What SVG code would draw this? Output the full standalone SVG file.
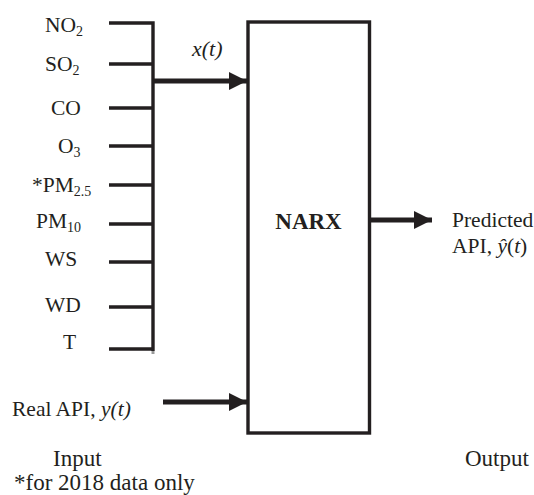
<svg xmlns="http://www.w3.org/2000/svg" width="534" height="495" viewBox="0 0 534 495">
  <defs>
    <marker id="head" viewBox="0 0 18 18" refX="18" refY="9" markerWidth="18" markerHeight="18" markerUnits="userSpaceOnUse" orient="auto">
      <path d="M0,0 L18,9 L0,18 Z" fill="#231f20"/>
    </marker>
  </defs>

  <rect width="534" height="495" fill="#ffffff"/>

  <!-- NARX block -->
  <g id="narx">
    <rect x="248" y="22" width="121.5" height="411" fill="#ffffff" stroke="#231f20" stroke-width="3.4"/>
    <text font-family="Liberation Serif" fill="#231f20" x="308.5" y="229" text-anchor="middle" font-weight="bold" font-size="23">NARX</text>
  </g>

  <!-- input variable labels -->
  <g id="in-no2"><text font-family="Liberation Serif" fill="#231f20" font-size="21.5" x="45" y="32">NO<tspan font-size="14" dy="4">2</tspan></text></g>
  <g id="in-so2"><text font-family="Liberation Serif" fill="#231f20" font-size="21.5" x="45" y="71">SO<tspan font-size="14" dy="4">2</tspan></text></g>
  <g id="in-co"><text font-family="Liberation Serif" fill="#231f20" font-size="21.5" x="51" y="115">CO</text></g>
  <g id="in-o3"><text font-family="Liberation Serif" fill="#231f20" font-size="21.5" x="58" y="153">O<tspan font-size="14" dy="4">3</tspan></text></g>
  <g id="in-pm25"><text font-family="Liberation Serif" fill="#231f20" font-size="21.5" x="32" y="192">*PM<tspan font-size="14" dy="4">2.5</tspan></text></g>
  <g id="in-pm10"><text font-family="Liberation Serif" fill="#231f20" font-size="21.5" x="36" y="228">PM<tspan font-size="14" dy="4">10</tspan></text></g>
  <g id="in-ws"><text font-family="Liberation Serif" fill="#231f20" font-size="21.5" x="45" y="266">WS</text></g>
  <g id="in-wd"><text font-family="Liberation Serif" fill="#231f20" font-size="21.5" x="45" y="312">WD</text></g>
  <g id="in-t"><text font-family="Liberation Serif" fill="#231f20" font-size="21.5" x="63" y="349">T</text></g>

  <g id="x-label"><text font-family="Liberation Serif" fill="#231f20" x="192" y="56" font-size="22" font-style="italic">x(t)</text></g>

  <g id="real-api"><text font-family="Liberation Serif" fill="#231f20" font-size="21.5" x="12" y="416">Real API, <tspan font-style="italic">y(t)</tspan></text></g>

  <g id="predicted">
    <text font-family="Liberation Serif" fill="#231f20" font-size="21.5" x="452" y="227">Predicted</text>
    <text font-family="Liberation Serif" fill="#231f20" font-size="21.5" x="452" y="253">API, <tspan font-style="italic">ŷ</tspan>(<tspan font-style="italic">t</tspan>)</text>
  </g>

  <g id="captions">
    <text font-family="Liberation Serif" fill="#231f20" font-size="23" x="53" y="466">Input</text>
    <text font-family="Liberation Serif" fill="#231f20" font-size="23" x="465" y="466">Output</text>
    <text font-family="Liberation Serif" fill="#231f20" font-size="23" x="14" y="490">*for 2018 data only</text>
  </g>

  <!-- connectors: input ticks, collecting bus and arrows -->
  <g id="connectors" fill="none" stroke="#231f20">
    <path stroke-width="3.4" d="M109,23 H153 V351"/>
    <path stroke-width="3.4" d="M109,64 H153 M109,108 H153 M109,146 H153 M109,185 H153 M109,224 H153 M109,262 H153 M109,307 H153 M109,349 H153"/>
    <line x1="153" y1="351" x2="153" y2="354" stroke="#9a9a9a" stroke-width="3"/>
    <line stroke-width="5" x1="153" y1="81" x2="247" y2="81" marker-end="url(#head)"/>
    <line stroke-width="5" x1="163" y1="402" x2="247" y2="402" marker-end="url(#head)"/>
    <line stroke-width="5" x1="370" y1="220" x2="432" y2="220" marker-end="url(#head)"/>
  </g>
</svg>
